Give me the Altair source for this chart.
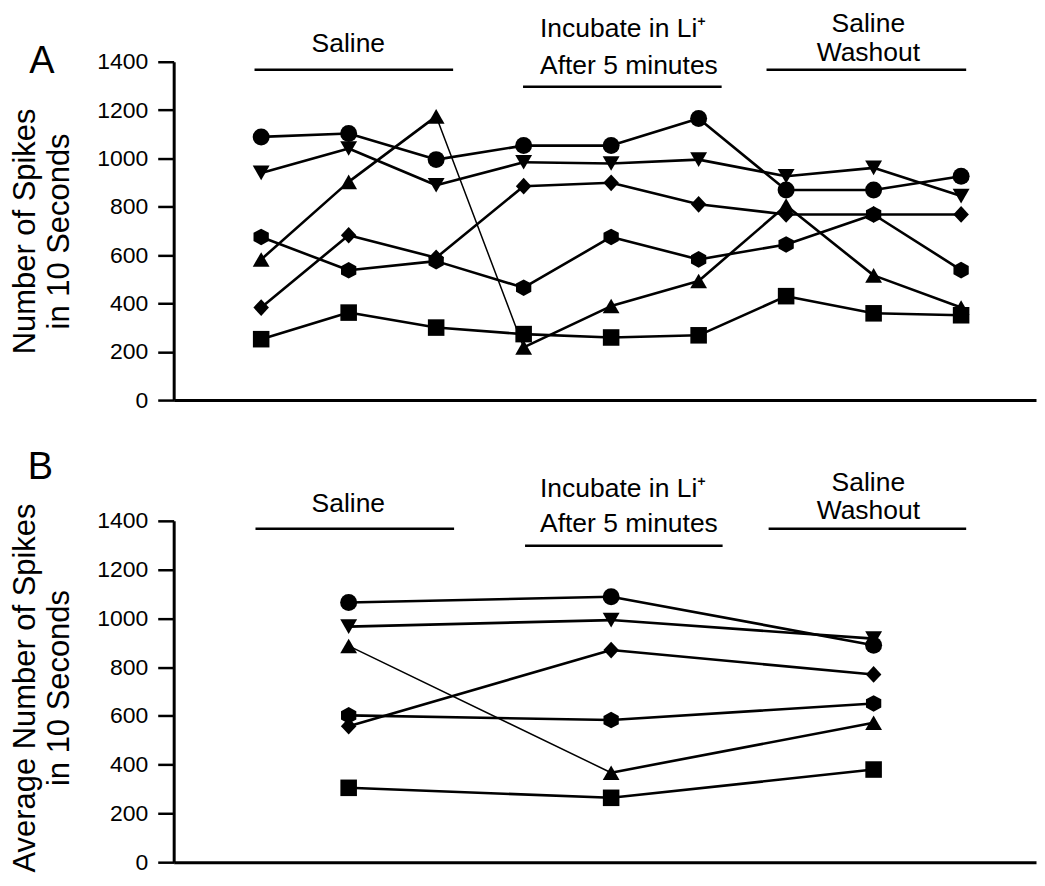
import altair as alt
import pandas as pd

FONT = "Liberation Sans"

series_names = ["circle", "tri_down", "tri_up", "diamond", "hexagon", "square"]

# Panel A: nine successive 10-s counts
a_positions = [1, 2, 3, 4, 5, 6, 7, 8, 9]
a_circle = [1089, 1103, 995, 1053, 1053, 1165, 869, 869, 926]
a_tri_down = [940, 1041, 889, 984, 979, 995, 926, 961, 844]
a_tri_up = [582, 903, 1174, 218, 389, 493, 805, 516, 383]
a_diamond = [383, 682, 589, 885, 899, 810, 768, 768, 768]
a_hexagon = [675, 537, 575, 465, 675, 582, 644, 768, 538]
a_square = [252, 362, 300, 273, 259, 268, 430, 359, 351]

# Panel B: averages per condition
b_positions = [2, 5, 8]
b_circle = [1065, 1089, 890]
b_tri_down = [966, 993, 917]
b_tri_up = [887, 367, 572]
b_diamond = [558, 870, 770]
b_hexagon = [602, 583, 651]
b_square = [305, 264, 380]

y_ticks = [0, 200, 400, 600, 800, 1000, 1200, 1400]

# segments drawn with a thinner pen in the original: (series, index of first point)
thin_a = [("tri_up", 2)]
thin_b = [("tri_up", 0)]


def long_df(positions, series_lists):
    rows = []
    for name, vals in zip(series_names, series_lists):
        for p, v in zip(positions, vals):
            rows.append({"series": name, "pos": p, "value": v})
    return pd.DataFrame(rows)


def seg_df(positions, series_lists, thin):
    rows = []
    for name, vals in zip(series_names, series_lists):
        for i in range(len(vals) - 1):
            rows.append({"series": name, "pos": positions[i], "pos2": positions[i + 1],
                         "value": vals[i], "value2": vals[i + 1],
                         "w": 1.5 if (name, i) in thin else 2.6})
    return pd.DataFrame(rows)


a_lists = [a_circle, a_tri_down, a_tri_up, a_diamond, a_hexagon, a_square]
b_lists = [b_circle, b_tri_down, b_tri_up, b_diamond, b_hexagon, b_square]
df_a = long_df(a_positions, a_lists)
df_b = long_df(b_positions, b_lists)
seg_a = seg_df(a_positions, a_lists, thin_a)
seg_b = seg_df(b_positions, b_lists, thin_b)

HEX = "M0,-1L0.92,-0.5L0.92,0.5L0,1L-0.92,0.5L-0.92,-0.5Z"
DIAM = "M0,-1L0.93,0L0,1L-0.93,0Z"
shape_range = ["circle", "triangle-down", "triangle-up", DIAM, HEX, "square"]
size_range = [289, 275, 275, 361, 313, 240]

W = 864
H_A = 339
H_B = 342
XDOMAIN = [0, 9.856]


def panel(df, seg, h, title, title_size, title_y, letter, letter_xy, rules, texts):
    xs = alt.Scale(domain=XDOMAIN, nice=False, zero=False)
    ys = alt.Scale(domain=[0, 1400], nice=False)
    xaxis = alt.Axis(labels=False, ticks=False, grid=False)
    yaxis = alt.Axis(values=y_ticks, format="d", titleFontSize=title_size, titleY=title_y)
    x = alt.X("pos:Q", scale=xs, axis=xaxis, title=None)
    y = alt.Y("value:Q", scale=ys, axis=yaxis, title=title)
    segs = alt.Chart(seg).mark_rule(color="black", strokeCap="round").encode(
        x=x, x2="pos2:Q", y=y, y2="value2:Q",
        strokeWidth=alt.StrokeWidth("w:Q", scale=None, legend=None))
    pts = alt.Chart(df).mark_point(filled=True, color="black", opacity=1).encode(
        x=x, y=y,
        shape=alt.Shape("series:N", scale=alt.Scale(domain=series_names, range=shape_range), legend=None),
        size=alt.Size("series:N", scale=alt.Scale(domain=series_names, range=size_range), legend=None),
    )
    layers = [segs, pts]
    for (x1, x2, py) in rules:
        layers.append(
            alt.Chart(pd.DataFrame({"x1": [x1], "x2": [x2]})).mark_rule(
                color="black", strokeWidth=2.5).encode(
                x=alt.X("x1:Q", scale=xs, axis=xaxis, title=None), x2="x2:Q", y=alt.value(py)))
    for (tx, py, label, align) in texts:
        layers.append(
            alt.Chart(pd.DataFrame({"tx": [tx], "label": [label]})).mark_text(
                font=FONT, fontSize=26.5, color="black", align=align, baseline="middle").encode(
                x=alt.X("tx:Q", scale=xs, axis=xaxis, title=None), y=alt.value(py), text="label:N"))
    layers.append(
        alt.Chart(pd.DataFrame({"t": [letter]})).mark_text(
            font=FONT, fontSize=38, color="black", align="center", baseline="middle").encode(
            x=alt.value(letter_xy[0]), y=alt.value(letter_xy[1]), text="t:N"))
    return alt.layer(*layers).properties(width=W, height=h)


rules_a = [(0.924, 3.194, 8), (3.993, 6.263, 25), (6.776, 9.058, 8)]
texts_a = [(1.996, -17.5, "Saline", "center"),
           (4.187, -32.5, "Incubate in Li⁺", "left"),
           (4.187, 4, "After 5 minutes", "left"),
           (7.94, -37.5, "Saline", "center"),
           (7.94, -8.5, "Washout", "center")]
rules_b = [(0.935, 3.205, 8), (4.016, 6.274, 25), (6.80, 9.058, 8)]
texts_b = [(1.996, -16.5, "Saline", "center"),
           (4.187, -31.5, "Incubate in Li⁺", "left"),
           (4.187, 3.5, "After 5 minutes", "left"),
           (7.94, -37.5, "Saline", "center"),
           (7.94, -9.5, "Washout", "center")]

pa = panel(df_a, seg_a, H_A, ["Number of Spikes", "in 10 Seconds"], 31, H_A / 2, "A", (-132, 0),
           rules_a, texts_a)
pb = panel(df_b, seg_b, H_B, ["Average Number of Spikes", "in 10 Seconds"], 31, H_B / 2 - 4, "B",
           (-133.5, -52.5), rules_b, texts_b)

chart = alt.vconcat(pa, pb, spacing=36).configure(
    font=FONT, padding={"left": 1, "top": 2, "right": 0, "bottom": 0}
).configure_view(
    stroke="transparent"
).configure_axis(
    domainColor="black", domainWidth=3, tickColor="black", tickWidth=2.5, tickSize=16,
    labelFontSize=23, labelColor="black", labelFont=FONT, labelPadding=10, grid=False,
    titleFont=FONT, titleFontWeight="normal", titleColor="black", titleLineHeight=34,
    titlePadding=21
)

chart.save("out.html", embed_options={"renderer": "svg", "actions": False})
